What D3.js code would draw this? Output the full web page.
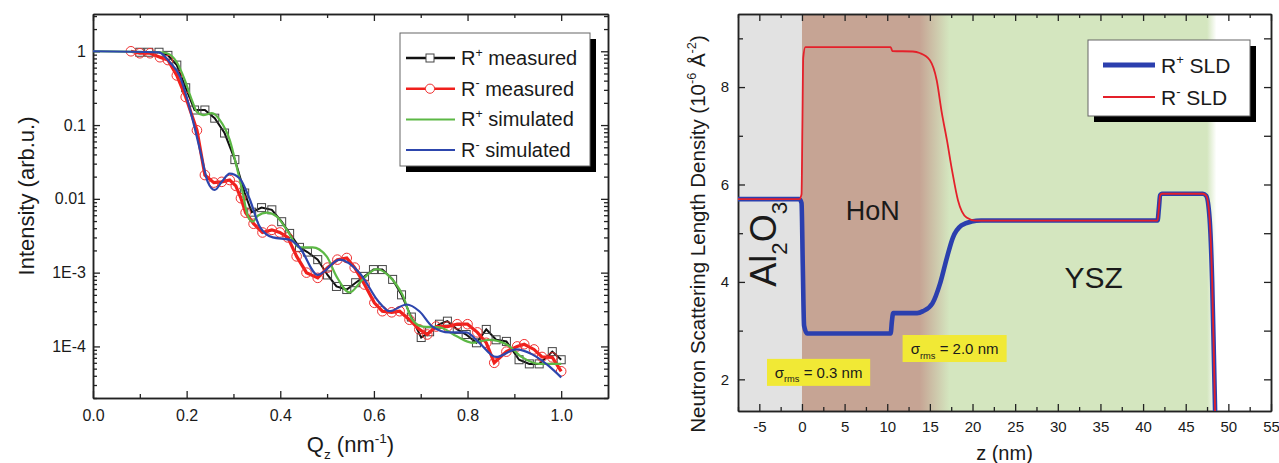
<!DOCTYPE html>
<html>
<head>
<meta charset="utf-8">
<script src="https://cdn.jsdelivr.net/npm/d3@7/dist/d3.min.js"></script>
<style>
  body { margin: 0; background: #fff; }
  svg text { font-family: "Liberation Sans", Arial, sans-serif; fill: #1a1a1a; }
</style>
</head>
<body>
<svg id="chart" width="1279" height="463"></svg>
<script>
// ---------- left panel: reflectivity ----------
var qTicks = [0, 0.2, 0.4, 0.6, 0.8, 1.0];
var qMinorTicks = [0.1, 0.3, 0.5, 0.7, 0.9];
var intensityTicks = [1e-4, 1e-3, 1e-2, 0.1, 1];
var intensityTickLabels = ['1E-4', '1E-3', '0.01', '0.1', '1'];

// [Qz (nm^-1), intensity]
var rPlusMeasured = [[0.100,0.97],[0.119,0.97],[0.141,0.97],[0.160,0.88],[0.179,0.65],[0.198,0.32],[0.217,0.16],[0.239,0.16],
  [0.260,0.124],[0.281,0.078],[0.303,0.034],[0.324,0.012],[0.339,0.0066],[0.360,0.0076],[0.382,0.0071],[0.403,0.0049],
  [0.420,0.0034],[0.441,0.0022],[0.458,0.0019],[0.480,0.0015],[0.501,0.00093],[0.520,0.00065],[0.542,0.00059],[0.561,0.00073],
  [0.580,0.00089],[0.599,0.0011],[0.618,0.0011],[0.640,0.00081],[0.659,0.0005],[0.680,0.00025],[0.701,0.000132],[0.719,0.000158],
  [0.740,0.0002],[0.757,0.00022],[0.778,0.00017],[0.797,0.000145],[0.819,0.000112],[0.840,0.00017],[0.861,0.000123],[0.883,0.000117],
  [0.910,0.000066],[0.932,0.000058],[0.953,0.000058],[0.981,0.000085],[1.000,0.000066]];
var rMinusMeasured = [[0.081,1.0],[0.100,0.94],[0.122,0.94],[0.143,0.83],[0.160,0.76],[0.179,0.47],[0.198,0.24],[0.222,0.085],
  [0.239,0.021],[0.258,0.0166],[0.275,0.017],[0.292,0.018],[0.305,0.015],[0.316,0.0102],[0.326,0.0065],[0.343,0.0046],
  [0.362,0.0035],[0.382,0.0038],[0.399,0.0035],[0.416,0.0030],[0.435,0.00166],[0.456,0.001],[0.480,0.00085],[0.501,0.00117],
  [0.522,0.0015],[0.542,0.00158],[0.559,0.00117],[0.580,0.00069],[0.601,0.00039],[0.618,0.0003],[0.638,0.00029],[0.655,0.0003],
  [0.676,0.00023],[0.697,0.00017],[0.714,0.000145],[0.733,0.000186],[0.757,0.000186],[0.778,0.0002],[0.800,0.0002],[0.821,0.000155],
  [0.840,0.000112],[0.857,0.00006],[0.883,0.000085],[0.906,0.0001],[0.921,0.000107],[0.942,0.000091],[0.959,0.000072],[0.981,0.000071],
  [1.000,0.000046]];
var rPlusSimulated = [[0,1],[0.143,0.97],[0.158,0.94],[0.179,0.71],[0.196,0.41],[0.211,0.22],[0.222,0.15],[0.235,0.136],
  [0.254,0.145],[0.271,0.117],[0.292,0.063],[0.307,0.027],[0.320,0.012],[0.330,0.006],[0.341,0.0049],[0.352,0.0059],
  [0.371,0.0065],[0.392,0.0058],[0.414,0.0038],[0.441,0.0022],[0.469,0.0022],[0.499,0.00166],[0.520,0.00089],[0.548,0.00054],
  [0.576,0.00081],[0.606,0.00112],[0.633,0.00089],[0.661,0.0005],[0.682,0.00023],[0.704,0.000186],[0.740,0.000182],[0.776,0.000138],
  [0.810,0.000112],[0.846,0.000123],[0.883,0.000107],[0.917,0.000071],[0.953,0.000058],[1.0,0.000058]];
var rMinusSimulated = [[0,1],[0.141,0.968],[0.164,0.71],[0.186,0.45],[0.200,0.24],[0.217,0.093],[0.232,0.037],[0.245,0.017],
  [0.260,0.0132],[0.275,0.017],[0.292,0.022],[0.313,0.019],[0.335,0.0098],[0.356,0.0042],[0.384,0.0030],[0.420,0.0028],
  [0.441,0.0022],[0.480,0.00093],[0.527,0.0015],[0.569,0.001],[0.612,0.00039],[0.633,0.0003],[0.670,0.00037],[0.697,0.0003],
  [0.725,0.000186],[0.761,0.000155],[0.797,0.000155],[0.825,0.000112],[0.861,0.000072],[0.904,0.000091],[0.938,0.000078],
  [0.974,0.000054],[1.0,0.000038]];
var reflLegend = [['R', '+', ' measured'], ['R', '-', ' measured'], ['R', '+', ' simulated'], ['R', '-', ' simulated']];

// ---------- right panel: SLD profile ----------
var zTicks = [-5, 0, 5, 10, 15, 20, 25, 30, 35, 40, 45, 50, 55];
var zMinorTicks = [-7.5, -2.5, 2.5, 7.5, 12.5, 17.5, 22.5, 27.5, 32.5, 37.5, 42.5, 47.5, 52.5];
var sldTicks = [2, 4, 6, 8];
var sldMinorTicks = [3, 5, 7, 9];

// [z (nm), SLD (1e-6 A^-2)]
var sldPlus = [[-7.5,5.7],[-0.3,5.7],[-0.05,5.62],[0.1,4.3],[0.25,3.1],[0.6,2.94],[10.4,2.94],[10.55,3.2],[10.7,3.36],
  [13.5,3.36],[14.2,3.4],[15.3,3.56],[16.2,3.97],[17.0,4.5],[17.7,4.91],[18.7,5.16],[19.9,5.24],[21,5.26],
  [41.7,5.26],[41.85,5.5],[42.0,5.78],[42.2,5.81],[47.0,5.81],[47.4,5.77],[47.8,5.3],[48.1,4.0],[48.3,2.5],[48.45,1.3],[48.55,0.5]];
var sldMinus = [[-7.5,5.7],[-0.3,5.7],[-0.05,5.8],[0.05,7.2],[0.15,8.6],[0.4,8.82],[10.4,8.82],[10.6,8.74],[13.0,8.73],
  [13.8,8.70],[15.0,8.55],[15.8,8.14],[16.4,7.47],[17.0,6.91],[17.6,6.29],[18.3,5.67],[19.3,5.32],[20.3,5.26],
  [41.7,5.26],[41.85,5.5],[42.0,5.78],[42.2,5.81],[47.0,5.81],[47.4,5.77],[47.8,5.3],[48.1,4.0],[48.3,2.5],[48.45,1.3],[48.55,0.5]];
var layerEdges = [0, 13.8, 17.3, 47.5, 48.6];   // substrate | HoN | mix | YSZ | surface
var roughness = ['0.3', '2.0'];
var sldLegend = [['R', '+', ' SLD'], ['R', '-', ' SLD']];

var svg = d3.select('#chart');
var ink = '#222';

function richText(sel, parts, size) {
  var shift = 0;
  parts.forEach(function (p) {
    var target = p[1] === 'sup' ? -0.42 * size : p[1] === 'sub' ? 0.3 * size : 0;
    sel.append('tspan')
      .attr('dy', target - shift)
      .attr('font-size', p[1] ? size * 0.62 : size)
      .text(p[0]);
    shift = target;
  });
}

function styleAxis(g, size) {
  g.selectAll('path').attr('stroke', ink).attr('stroke-width', 1.5);
  g.selectAll('line').attr('stroke', ink).attr('stroke-width', 1.3);
  g.selectAll('text').attr('font-size', size).attr('fill', ink)
    .attr('font-family', '"Liberation Sans", Arial, sans-serif');
}

// ===== left panel =====
var L = { left: 93, top: 14, right: 608, bottom: 398 };
var xL = d3.scaleLinear().domain([0, 1.1]).range([L.left, L.right]);
var yL = d3.scaleLog().domain([2e-5, 3.2]).range([L.bottom, L.top]);
var yMinor = yL.ticks().filter(function (d) { return intensityTicks.indexOf(d) < 0; });

var gl = svg.append('g');
[
  [d3.axisBottom(xL).tickValues(qTicks).tickSize(-7).tickPadding(12).tickFormat(d3.format('.1f')), 'translate(0,' + L.bottom + ')'],
  [d3.axisBottom(xL).tickValues(qMinorTicks).tickSize(-4).tickFormat(''), 'translate(0,' + L.bottom + ')'],
  [d3.axisTop(xL).tickValues(qTicks).tickSize(-7).tickFormat(''), 'translate(0,' + L.top + ')'],
  [d3.axisTop(xL).tickValues(qMinorTicks).tickSize(-4).tickFormat(''), 'translate(0,' + L.top + ')'],
  [d3.axisLeft(yL).tickValues(intensityTicks).tickSize(-7).tickPadding(7)
    .tickFormat(function (d, i) { return intensityTickLabels[i]; }), 'translate(' + L.left + ',0)'],
  [d3.axisLeft(yL).tickValues(yMinor).tickSize(-4).tickFormat(''), 'translate(' + L.left + ',0)'],
  [d3.axisRight(yL).tickValues(intensityTicks).tickSize(-7).tickFormat(''), 'translate(' + L.right + ',0)'],
  [d3.axisRight(yL).tickValues(yMinor).tickSize(-4).tickFormat(''), 'translate(' + L.right + ',0)']
].forEach(function (a) {
  var g = gl.append('g').attr('transform', a[1]).call(a[0].tickSizeOuter(0));
  styleAxis(g, 16);
});

var lineL = d3.line().x(function (d) { return xL(d[0]); }).y(function (d) { return yL(d[1]); });
var smoothL = d3.line().x(function (d) { return xL(d[0]); }).y(function (d) { return yL(d[1]); }).curve(d3.curveMonotoneX);

gl.append('path').datum(rPlusMeasured).attr('d', lineL).attr('fill', 'none').attr('stroke', '#111').attr('stroke-width', 2);
gl.selectAll('.sq').data(rPlusMeasured).enter().append('rect').attr('class', 'sq')
  .attr('x', function (d) { return xL(d[0]) - 4; }).attr('y', function (d) { return yL(d[1]) - 4; })
  .attr('width', 8).attr('height', 8).attr('fill', 'none').attr('stroke', '#444').attr('stroke-width', 1);
gl.append('path').datum(rMinusMeasured).attr('d', lineL).attr('fill', 'none').attr('stroke', '#f0201c').attr('stroke-width', 3.2);
gl.selectAll('.ci').data(rMinusMeasured).enter().append('circle').attr('class', 'ci')
  .attr('cx', function (d) { return xL(d[0]); }).attr('cy', function (d) { return yL(d[1]); })
  .attr('r', 4.8).attr('fill', 'none').attr('stroke', '#f03030').attr('stroke-width', 1);
gl.append('path').datum(rPlusSimulated).attr('d', smoothL).attr('fill', 'none').attr('stroke', '#5cb845').attr('stroke-width', 2.2);
gl.append('path').datum(rMinusSimulated).attr('d', smoothL).attr('fill', 'none').attr('stroke', '#2d46ad').attr('stroke-width', 2.2);

// left legend
var legL = gl.append('g');
legL.append('rect').attr('x', 406).attr('y', 39).attr('width', 190).attr('height', 133).attr('fill', '#000');
legL.append('rect').attr('x', 400).attr('y', 33).attr('width', 190).attr('height', 133)
  .attr('fill', '#fff').attr('stroke', '#666').attr('stroke-width', 1);
var legColors = ['#111', '#f0201c', '#5cb845', '#2d46ad'];
reflLegend.forEach(function (item, i) {
  var y = 58 + i * 30.7;
  legL.append('line').attr('x1', 406).attr('x2', 455).attr('y1', y).attr('y2', y)
    .attr('stroke', legColors[i]).attr('stroke-width', i < 2 ? 2.6 : 2);
  if (i === 0) legL.append('rect').attr('x', 426).attr('y', y - 4).attr('width', 8).attr('height', 8)
    .attr('fill', '#fff').attr('stroke', '#444');
  if (i === 1) legL.append('circle').attr('cx', 430).attr('cy', y).attr('r', 4.6)
    .attr('fill', '#fff').attr('stroke', '#f03030');
  var t = legL.append('text').attr('x', 461).attr('y', y + 7).attr('font-size', 20);
  richText(t, [[item[0]], [item[1], 'sup'], [item[2]]], 20);
});

// left axis titles
var tq = gl.append('text').attr('x', (L.left + L.right) / 2).attr('y', 452).attr('text-anchor', 'middle').attr('font-size', 22);
richText(tq, [['Q'], ['z', 'sub'], [' (nm'], ['-1', 'sup'], [')']], 22);
gl.append('text').attr('transform', 'translate(34,196) rotate(-90)')
  .attr('text-anchor', 'middle').attr('font-size', 22).text('Intensity (arb.u.)');

// ===== right panel =====
var R = { left: 738, top: 14, right: 1271, bottom: 411 };
var xR = d3.scaleLinear().domain([-7.5, 55]).range([R.left, R.right]);
var yR = d3.scaleLinear().domain([1.35, 9.5]).range([R.bottom, R.top]);

var gr = svg.append('g');
var defs = svg.append('defs');
defs.append('clipPath').attr('id', 'clipR').append('rect')
  .attr('x', R.left).attr('y', R.top).attr('width', R.right - R.left).attr('height', R.bottom - R.top);

var x0 = xR(layerEdges[0]), x4 = xR(layerEdges[4]);
var grad = defs.append('linearGradient').attr('id', 'layers').attr('gradientUnits', 'userSpaceOnUse')
  .attr('x1', x0).attr('x2', x4).attr('y1', 0).attr('y2', 0);
var stopColors = ['#c6a494', '#c6a494', '#d4e6bf', '#d4e6bf', '#ffffff'];
layerEdges.forEach(function (z, i) {
  grad.append('stop').attr('offset', (xR(z) - x0) / (x4 - x0)).attr('stop-color', stopColors[i]);
});
gr.append('rect').attr('x', R.left).attr('y', R.top).attr('width', x0 - R.left).attr('height', R.bottom - R.top).attr('fill', '#e2e2e2');
gr.append('rect').attr('x', x0).attr('y', R.top).attr('width', x4 - x0).attr('height', R.bottom - R.top).attr('fill', 'url(#layers)');

[
  [d3.axisBottom(xR).tickValues(zTicks).tickSize(-7).tickPadding(10).tickFormat(String), 'translate(0,' + R.bottom + ')'],
  [d3.axisBottom(xR).tickValues(zMinorTicks).tickSize(-4).tickFormat(''), 'translate(0,' + R.bottom + ')'],
  [d3.axisTop(xR).tickValues(zTicks).tickSize(-7).tickFormat(''), 'translate(0,' + R.top + ')'],
  [d3.axisTop(xR).tickValues(zMinorTicks).tickSize(-4).tickFormat(''), 'translate(0,' + R.top + ')'],
  [d3.axisLeft(yR).tickValues(sldTicks).tickSize(-7).tickPadding(9).tickFormat(String), 'translate(' + R.left + ',0)'],
  [d3.axisLeft(yR).tickValues(sldMinorTicks).tickSize(-5).tickFormat(''), 'translate(' + R.left + ',0)'],
  [d3.axisRight(yR).tickValues(sldTicks).tickSize(-7).tickFormat(''), 'translate(' + R.right + ',0)'],
  [d3.axisRight(yR).tickValues(sldMinorTicks).tickSize(-7).tickFormat(''), 'translate(' + R.right + ',0)']
].forEach(function (a) {
  var g = gr.append('g').attr('transform', a[1]).call(a[0].tickSizeOuter(0));
  styleAxis(g, 15);
});

var lineR = d3.line().x(function (d) { return xR(d[0]); }).y(function (d) { return yR(d[1]); }).curve(d3.curveMonotoneX);
var curves = gr.append('g').attr('clip-path', 'url(#clipR)');
curves.append('path').datum(sldPlus).attr('d', lineR).attr('fill', 'none').attr('stroke', '#2b3fae').attr('stroke-width', 4.6);
curves.append('path').datum(sldMinus).attr('d', lineR).attr('fill', 'none').attr('stroke', '#e4202a').attr('stroke-width', 1.8);

// layer names
gr.append('text').attr('x', xR(8.3)).attr('y', yR(5.27)).attr('text-anchor', 'middle').attr('font-size', 27).text('HoN');
gr.append('text').attr('x', xR(34.2)).attr('y', yR(3.87)).attr('text-anchor', 'middle').attr('font-size', 30).text('YSZ');
var ta = gr.append('text').attr('transform', 'translate(' + (xR(-3.0)) + ',' + yR(3.9) + ') rotate(-90)').attr('font-size', 36);
richText(ta, [['Al'], ['2', 'sub'], ['O'], ['3', 'sub']], 36);

// roughness boxes
[[-4.1, 8.0, 2.42], [11.8, 24.0, 2.91]].forEach(function (b, i) {
  var bx = xR(b[0]), bw = xR(b[1]) - xR(b[0]), by = yR(b[2]);
  gr.append('rect').attr('x', bx).attr('y', by).attr('width', bw).attr('height', 27).attr('fill', '#f1e935');
  var t = gr.append('text').attr('x', bx + bw / 2).attr('y', by + 19).attr('text-anchor', 'middle')
    .attr('font-family', '"Open Sans", sans-serif').attr('font-size', 15);
  richText(t, [['\u03c3'], ['rms', 'sub'], [' = ' + roughness[i] + ' nm']], 15);
});

// right legend
var legR = gr.append('g');
legR.append('rect').attr('x', 1094).attr('y', 46).attr('width', 162).attr('height', 76).attr('fill', '#000');
legR.append('rect').attr('x', 1088).attr('y', 40).attr('width', 162).attr('height', 76)
  .attr('fill', '#fff').attr('stroke', '#666').attr('stroke-width', 1);
sldLegend.forEach(function (item, i) {
  var y = 65 + i * 32;
  legR.append('line').attr('x1', 1103).attr('x2', 1155).attr('y1', y).attr('y2', y)
    .attr('stroke', i === 0 ? '#2b3fae' : '#e4202a').attr('stroke-width', i === 0 ? 5 : 2);
  var t = legR.append('text').attr('x', 1161).attr('y', y + 8).attr('font-size', 21);
  richText(t, [[item[0]], [item[1], 'sup'], [item[2]]], 21);
});

// right axis titles
gr.append('text').attr('x', (R.left + R.right) / 2).attr('y', 460).attr('text-anchor', 'middle').attr('font-size', 20).text('z (nm)');
var ts = gr.append('text').attr('transform', 'translate(705,234) rotate(-90)')
  .attr('text-anchor', 'middle').attr('font-size', 20.5);
richText(ts, [['Neutron Scattering Length Density (10'], ['-6', 'sup'], [' \u00c5'], ['-2', 'sup'], [')']], 20.5);
</script>
</body>
</html>
